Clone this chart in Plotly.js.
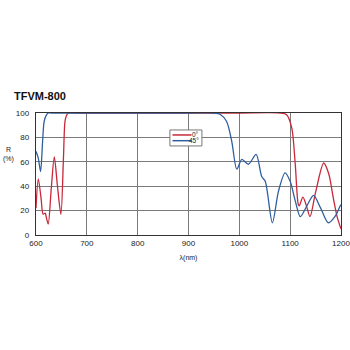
<!DOCTYPE html>
<html><head><meta charset="utf-8">
<script src="https://cdn.plot.ly/plotly-3.0.1.min.js"></script>
<style>html,body{margin:0;padding:0;background:#fff;}#c{width:350px;height:350px;}</style>
</head><body><div id="c"></div>
<script>
const seriesNames = ["0°", "45°"];
const seriesColors = ["#c8283a", "#2f5f9e"];
const redX = [600,604.5,610,614,618,620,624,630,636,642,649,654,657,660,664,680,700,800,900,1000,1080,1093,1103,1110,1116,1118,1125,1132,1139,1150,1166,1176,1185,1193,1200];
const redY = [22,46,30,17,18,15,9,38,64,41,17,63,93,98,100,100,100,100,100,100,100,98.6,88,58,25,24,31,24,15,35,59,50,30,14,5];
const blueX = [600,604.5,609,613,616,620,624,630,700,800,900,950,962,975,985,995,1005,1018,1033,1044,1051,1065,1077,1090,1100,1110,1120,1133,1146,1160,1175,1188,1198,1200];
const blueY = [68.6,63,52,77,93,98,100,100,100,100,100,100,99,93,77,54,62,58,66,48,44,10,36,51,44,28,15,24,32.5,22,10,15,23.5,25];
const xTicks = [600,700,800,900,1000,1100,1200];
const yTicks = [0,20,40,60,80,100];

const traces = [
  {x: redX, y: redY, name: seriesNames[0], mode: "lines", line: {color: seriesColors[0], width: 1.3, shape: "spline", smoothing: 0.8}},
  {x: blueX, y: blueY, name: seriesNames[1], mode: "lines", line: {color: seriesColors[1], width: 1.3, shape: "spline", smoothing: 0.8}}
];
const font = {family: "Liberation Sans, Arial, sans-serif", color: "#222"};
// legend box (drawn manually to match the compact original)
const lg = {x0: 0.439, x1: 0.544, y0: 0.73, y1: 0.861, lx0: 0.4475, lx1: 0.51, ys: [0.82, 0.773], tx: 0.542};
const shapes = [
  {type: "rect", xref: "paper", yref: "paper", x0: lg.x0, x1: lg.x1, y0: lg.y0, y1: lg.y1, fillcolor: "#fff", line: {color: "#777", width: 1}, layer: "above"}
];
const annotations = [
  {text: "R<br>(%)", xref: "paper", yref: "paper", x: -0.09, y: 0.66, xanchor: "center", yanchor: "middle", showarrow: false, font: {size: 7, color: "#222"}}
];
seriesNames.forEach((n, i) => {
  shapes.push({type: "line", xref: "paper", yref: "paper", x0: lg.lx0, x1: lg.lx1, y0: lg.ys[i], y1: lg.ys[i], line: {color: seriesColors[i], width: 1.5}, layer: "above"});
  annotations.push({text: n, xref: "paper", yref: "paper", x: lg.tx, y: lg.ys[i], xanchor: "right", yanchor: "middle", showarrow: false, font: {size: 6.5, color: "#222"}});
});
const layout = {
  width: 350, height: 350,
  margin: {l: 36, r: 9, t: 113, b: 115},
  paper_bgcolor: "#fff", plot_bgcolor: "#fff",
  font: Object.assign({size: 8}, font),
  title: {text: "<b>TFVM-800</b>", font: Object.assign({}, font, {size: 11, color: "#111"}), xref: "container", yref: "container", x: 0.04, xanchor: "left", y: 0.725, yanchor: "middle"},
  xaxis: {range: [600, 1200], tickvals: xTicks, showgrid: true, gridcolor: "#7a7a7a", gridwidth: 1,
          showline: true, linecolor: "#333", linewidth: 1.3, mirror: true, zeroline: false, ticks: "",
          tickfont: {size: 8, color: "#222"}, ticklabeloverflow: "allow",
          title: {text: "λ(nm)", font: {size: 7, color: "#222"}, standoff: 8}},
  yaxis: {range: [0, 100], tickvals: yTicks, showgrid: true, gridcolor: "#7a7a7a", gridwidth: 1,
          showline: true, linecolor: "#333", linewidth: 1.3, mirror: true, zeroline: false, ticks: "",
          tickfont: {size: 8, color: "#222"}, ticklabelstandoff: 4},
  showlegend: false,
  shapes: shapes,
  annotations: annotations
};
Plotly.newPlot("c", traces, layout, {displayModeBar: false, staticPlot: true});
</script></body></html>
